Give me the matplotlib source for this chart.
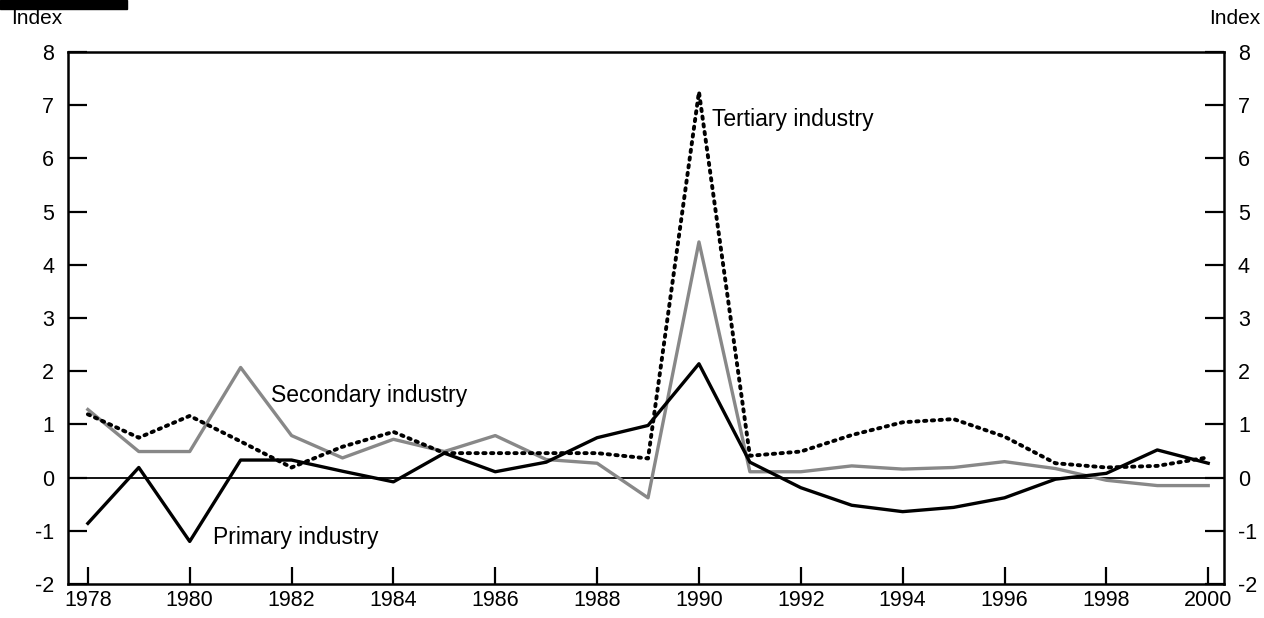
import matplotlib
matplotlib.use("Agg")
import matplotlib.pyplot as plt
import numpy as np

plt.rcParams['font.family'] = ['Liberation Sans', 'DejaVu Sans']

# 数据
years = list(range(1978, 2001))
primary = [-0.86, 0.19, -1.20, 0.33, 0.33, 0.12, -0.08, 0.46, 0.11, 0.29, 0.75, 0.98,
           2.14, 0.29, -0.19, -0.52, -0.64, -0.56, -0.38, -0.03, 0.08, 0.52, 0.27]
secondary = [1.28, 0.49, 0.49, 2.07, 0.79, 0.37, 0.72, 0.49, 0.79, 0.34, 0.27, -0.38,
             4.43, 0.11, 0.11, 0.22, 0.16, 0.19, 0.30, 0.17, -0.05, -0.15, -0.15]
tertiary = [1.19, 0.75, 1.16, 0.68, 0.19, 0.58, 0.86, 0.46, 0.46, 0.46, 0.46, 0.36,
            7.25, 0.41, 0.49, 0.80, 1.04, 1.10, 0.77, 0.27, 0.19, 0.22, 0.38]
x_ticks = list(range(1978, 2001, 2))
y_ticks = list(range(-2, 9))

fig = plt.figure(figsize=(12.64, 6.18), dpi=100)
ax = fig.add_axes([68 / 1264, 1 - 584 / 618, (1224 - 68) / 1264, (584 - 52) / 618])

ax.axhline(0, color='black', linewidth=1.3, zorder=1)
ax.plot(years, secondary, color='#888888', linewidth=2.4, zorder=2)
ax.plot(years, primary, color='black', linewidth=2.4, zorder=3)
ax.plot(years, tertiary, color='black', linewidth=2.8, linestyle=(0, (0.6, 1.4)),
        dash_capstyle='round', zorder=4)

ax.set_xlim(1977.61, 2000.31)
ax.set_ylim(-2, 8)
ax.set_xticks(x_ticks)
ax.set_yticks(y_ticks)
ax.set_xticklabels([str(y) for y in x_ticks], fontsize=15.5)
ax.set_yticklabels([str(v) for v in y_ticks], fontsize=15.5)
ax.tick_params(axis='x', direction='in', length=12, width=1.6, pad=4)
ax.tick_params(axis='y', direction='in', length=14, width=1.6, pad=10,
               left=True, right=True, labelleft=True, labelright=True)
for s in ax.spines.values():
    s.set_linewidth(1.8)

# 系列标注
ax.text(1990.25, 6.74, 'Tertiary industry', fontsize=16.5, va='center', ha='left')
ax.text(1981.6, 1.55, 'Secondary industry', fontsize=16.5, va='center', ha='left')
ax.text(1980.45, -1.12, 'Primary industry', fontsize=16.5, va='center', ha='left')

# 轴单位
fig.text(11 / 1264, 1 - 18 / 618, 'Index', fontsize=15, va='center', ha='left')
fig.text(1260 / 1264, 1 - 19 / 618, 'Index', fontsize=15, va='center', ha='right')

# 左上角黑条
fig.patches.append(plt.Rectangle((0, 1 - 9 / 618), 127 / 1264, 9 / 618,
                                 transform=fig.transFigure, color='black'))

fig.savefig('out.png', dpi=100)
